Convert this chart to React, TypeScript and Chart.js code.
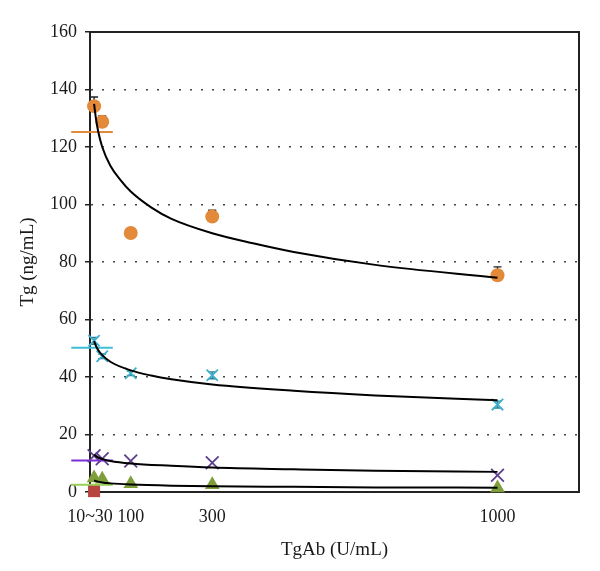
import React, { useEffect, useRef } from "react";
import { Chart, registerables } from "chart.js";

Chart.register(...registerables);

// ---- data ----
const doses = [10, 30, 100, 300, 1000];
const xTickValues = [0, 100, 300, 1000];
const xTickLabels = ["10~30", "100", "300", "1000"];

const orangeValues = [134.2, 128.8, 90.1, 95.8, 75.4];
const orangeErrHigh = [137.4, 130.8, null, 98.0, 78.3];

const cyanValues = [52.6, 47.2, 41.3, 40.6, 30.4];
const cyanErrLow = [51.4, 46.4, 40.5, 39.4, 29.2];
const cyanErrHigh = [53.8, 48.0, 42.1, 41.8, 31.6];

const purpleValues = [12.6, 11.6, 10.8, 10.2, 5.8];
const greenValues = [4.9, 4.4, 2.9, 2.5, 1.4];

const redDoses = [10];
const redValues = [0.3];

const orangeCurveX = [10, 15, 20, 30, 50, 75, 100, 150, 200, 300, 400, 500, 700, 1000];
const orangeCurveY = [135, 129.5, 125.5, 120, 113.5, 108.5, 104.5, 99, 95, 90, 86.5, 83.5, 79, 74.5];
const cyanCurveX = [10, 15, 20, 30, 50, 100, 150, 200, 300, 500, 700, 1000];
const cyanCurveY = [52.5, 50.7, 49.4, 47.6, 45.3, 42.3, 40.5, 39.2, 37.4, 35.2, 33.6, 31.9];
const purpleCurveX = [10, 20, 30, 50, 100, 200, 300, 500, 700, 1000];
const purpleCurveY = [13, 12, 11.5, 10.8, 9.9, 9.1, 8.5, 7.9, 7.4, 7.0];
const greenCurveX = [10, 20, 30, 50, 100, 200, 300, 500, 700, 1000];
const greenCurveY = [4.0, 3.6, 3.3, 3.0, 2.6, 2.2, 2.0, 1.8, 1.6, 1.5];

const refValues = [125.2, 50.2, 11.0, 2.5];
const refXRange = [-46, 56];

const FONT = "'Liberation Serif', 'DejaVu Serif', serif";
const ORANGE = "#E3893A";
const CYAN = "#3FB0CC";
const PURPLE = "#5E3F8E";
const GREEN = "#7D9E3A";
const RED = "#B8443E";
const refColors = [ORANGE, "#3CBFD6", "#7A2FD6", "#9ACD55"];

const pts = (xs: number[], ys: (number | null)[]) =>
  xs.map((x, i) => ({ x, y: ys[i] as number }));

const errorBarPlugin = {
  id: "errorBars",
  beforeDatasetsDraw(chart: any) {
    const { ctx } = chart;
    const xs = chart.scales.x;
    const ys = chart.scales.y;
    const cap = 4;
    ctx.save();
    ctx.lineWidth = 1.4;
    ctx.strokeStyle = "#222";
    doses.forEach((d, i) => {
      const hi = orangeErrHigh[i];
      if (hi == null) return;
      const px = xs.getPixelForValue(d);
      const py = ys.getPixelForValue(orangeValues[i]);
      const ph = ys.getPixelForValue(hi);
      ctx.beginPath();
      ctx.moveTo(px, py);
      ctx.lineTo(px, ph);
      ctx.moveTo(px - cap, ph);
      ctx.lineTo(px + cap, ph);
      ctx.stroke();
    });
    ctx.strokeStyle = "#2E7F96";
    doses.forEach((d, i) => {
      const px = xs.getPixelForValue(d);
      const pl = ys.getPixelForValue(cyanErrLow[i]);
      const ph = ys.getPixelForValue(cyanErrHigh[i]);
      ctx.beginPath();
      ctx.moveTo(px, pl);
      ctx.lineTo(px, ph);
      ctx.moveTo(px - cap, ph);
      ctx.lineTo(px + cap, ph);
      ctx.moveTo(px - cap, pl);
      ctx.lineTo(px + cap, pl);
      ctx.stroke();
    });
    ctx.restore();
  },
};

const boxPlugin = {
  id: "boxFrame",
  afterDraw(chart: any) {
    const { ctx, chartArea } = chart;
    ctx.save();
    ctx.strokeStyle = "#222";
    ctx.lineWidth = 2;
    ctx.beginPath();
    ctx.moveTo(chartArea.left, chartArea.top);
    ctx.lineTo(chartArea.right, chartArea.top);
    ctx.lineTo(chartArea.right, chartArea.bottom);
    ctx.stroke();
    ctx.restore();
  },
};

export default function App() {
  const ref = useRef<HTMLCanvasElement | null>(null);

  useEffect(() => {
    document.body.style.margin = "0";
    if (!ref.current) return;

    const curve = (xs: number[], ys: number[]) => ({
      data: pts(xs, ys),
      showLine: true,
      borderColor: "#000",
      borderWidth: 2,
      pointRadius: 0,
      cubicInterpolationMode: "monotone" as const,
      clip: false as any,
      order: 0,
    });

    const marker = (xs: number[], ys: number[], color: string, style: string, r: number, bw: number) => ({
      data: pts(xs, ys),
      showLine: false,
      pointStyle: style,
      pointRadius: r,
      pointBackgroundColor: color,
      pointBorderColor: color,
      pointBorderWidth: bw,
      clip: false as any,
      order: 2,
    });

    const refs = refValues.map((v, i) => ({
      data: [
        { x: refXRange[0], y: v },
        { x: refXRange[1], y: v },
      ],
      showLine: true,
      borderColor: refColors[i],
      borderWidth: 2,
      pointRadius: 0,
      clip: false as any,
      order: 1,
    }));

    const chart = new Chart(ref.current, {
      type: "scatter",
      data: {
        datasets: [
          marker(doses, orangeValues, ORANGE, "circle", 7, 0),
          marker(doses, cyanValues, CYAN, "crossRot", 8, 1.8),
          marker(doses, purpleValues, PURPLE, "crossRot", 9, 1.8),
          marker(doses, greenValues, GREEN, "triangle", 8.5, 0),
          marker(redDoses, redValues, RED, "rect", 8.5, 0),
          ...refs,
          curve(orangeCurveX, orangeCurveY),
          curve(cyanCurveX, cyanCurveY),
          curve(purpleCurveX, purpleCurveY),
          curve(greenCurveX, greenCurveY),
        ] as any,
      },
      options: {
        responsive: false,
        animation: false,
        events: [],
        layout: { padding: { left: 0, top: 32, right: 21, bottom: 0 } },
        plugins: {
          legend: { display: false },
          tooltip: { enabled: false },
        },
        scales: {
          x: {
            type: "linear",
            min: 0,
            max: 1200,
            afterFit: (s: any) => {
              s.height = 79;
            },
            afterBuildTicks: (s: any) => {
              s.ticks = xTickValues.map((v) => ({ value: v }));
            },
            ticks: {
              autoSkip: false,
              maxRotation: 0,
              padding: 6,
              color: "#1a1a1a",
              font: { family: FONT, size: 18 },
              callback: (v: any) => {
                const i = xTickValues.indexOf(Number(v));
                return i >= 0 ? xTickLabels[i] : "";
              },
            },
            grid: { display: false },
            border: { display: true, color: "#222", width: 2 },
            title: {
              display: true,
              text: "TgAb (U/mL)",
              color: "#1a1a1a",
              font: { family: FONT, size: 19 },
              padding: { top: 0, bottom: 10 },
            },
          },
          y: {
            type: "linear",
            min: 0,
            max: 160,
            afterFit: (s: any) => {
              s.width = 90;
            },
            ticks: {
              stepSize: 20,
              padding: 8,
              color: "#1a1a1a",
              font: { family: FONT, size: 18 },
            },
            grid: {
              color: (c: any) =>
                c.tick && c.tick.value > 0 && c.tick.value < 160 ? "#444" : "rgba(0,0,0,0)",
              lineWidth: 1.5,
              tickColor: "#222",
              tickWidth: 1.5,
              tickLength: 5,
              tickBorderDash: [],
            },
            border: { display: true, color: "#222", width: 2, dash: [2, 9] },
            title: {
              display: true,
              text: "Tg (ng/mL)",
              color: "#1a1a1a",
              font: { family: FONT, size: 19 },
              padding: { top: 17, bottom: 0 },
            },
          },
        },
      },
      plugins: [errorBarPlugin, boxPlugin],
    });

    return () => chart.destroy();
  }, []);

  return (
    <div style={{ position: "absolute", left: 0, top: 0, width: 600, height: 571, background: "#fff" }}>
      <canvas ref={ref} width={600} height={571} />
    </div>
  );
}
